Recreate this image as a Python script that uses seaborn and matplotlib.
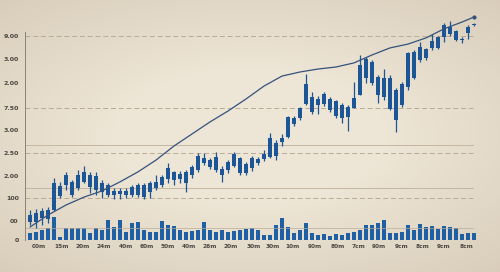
import numpy as np
import matplotlib
matplotlib.use("Agg")
import matplotlib.pyplot as plt
import seaborn as sns

# ---------------- data ----------------
high = [1.32, 1.37, 1.41, 1.45, 2.73, 2.56, 3.00, 2.64, 3.08, 3.26,
        3.00, 3.00, 2.64, 2.51, 2.29, 2.29, 2.29, 2.42, 2.51, 2.51,
        2.60, 2.86, 2.86, 3.39, 3.04, 3.04, 3.08, 3.30, 3.83, 3.83,
        3.61, 3.88, 3.26, 3.52, 3.88, 3.66, 3.44, 3.70, 3.66, 3.96,
        4.71, 4.41, 4.67, 5.46, 5.46, 5.86, 7.31, 6.52, 6.34, 6.52,
        6.30, 6.17, 6.04, 5.95, 6.96, 8.15, 8.06, 7.93, 7.27, 7.53,
        7.27, 6.70, 6.96, 8.28, 8.37, 8.72, 8.46, 9.07, 8.99, 9.56,
        9.65, 9.25, 8.94, 9.47, 9.56]
low = [0.66, 0.53, 0.66, 0.75, 1.28, 1.85, 2.20, 1.89, 2.20, 2.51,
       2.07, 1.98, 1.85, 1.89, 1.81, 1.81, 1.85, 1.89, 1.89, 1.81,
       1.85, 2.20, 2.33, 2.51, 2.42, 2.51, 2.11, 2.73, 3.00, 3.30,
       3.13, 3.00, 2.56, 2.95, 3.22, 2.86, 2.86, 3.04, 3.30, 3.48,
       3.61, 3.52, 4.14, 4.49, 5.02, 5.29, 5.95, 5.55, 5.55, 5.90,
       5.64, 5.37, 5.15, 4.80, 5.81, 6.39, 6.92, 6.83, 6.04, 6.17,
       5.73, 4.76, 5.86, 6.61, 7.09, 7.84, 7.93, 8.37, 8.41, 8.72,
       8.99, 8.77, 8.68, 8.85, 9.43]
body_top = [1.10, 1.19, 1.28, 1.32, 2.51, 2.38, 2.86, 2.56, 2.86, 3.00,
            2.86, 2.82, 2.51, 2.42, 2.16, 2.16, 2.16, 2.33, 2.42, 2.42,
            2.51, 2.56, 2.78, 3.17, 3.00, 2.91, 3.00, 3.22, 3.70, 3.61,
            3.52, 3.66, 3.13, 3.44, 3.79, 3.61, 3.35, 3.61, 3.57, 3.79,
            4.49, 4.27, 4.49, 5.42, 5.37, 5.81, 6.87, 6.30, 6.21, 6.43,
            6.21, 6.12, 5.95, 5.86, 6.26, 7.71, 7.97, 7.84, 7.18, 7.14,
            7.14, 6.61, 6.87, 8.24, 8.28, 8.50, 8.41, 8.77, 8.94, 9.47,
            9.38, 9.21, 8.85, 9.38, 9.52]
body_bottom = [0.79, 0.79, 0.97, 0.93, 1.32, 1.94, 2.42, 1.98, 2.29, 2.56,
               2.33, 2.20, 2.11, 1.98, 1.98, 2.03, 1.98, 1.98, 1.98, 1.89,
               2.11, 2.29, 2.42, 2.69, 2.64, 2.69, 2.51, 2.86, 3.08, 3.39,
               3.22, 3.08, 2.86, 3.08, 3.26, 2.95, 2.95, 3.17, 3.39, 3.57,
               3.66, 3.70, 4.32, 4.54, 5.11, 5.37, 5.99, 5.64, 5.95, 5.99,
               5.73, 5.46, 5.37, 5.42, 5.81, 6.39, 7.14, 6.92, 6.39, 6.30,
               5.77, 5.29, 5.95, 6.74, 7.14, 7.93, 8.02, 8.46, 8.46, 8.94,
               9.07, 8.81, 8.81, 9.12, 9.47]
volume = [0.31, 0.35, 0.44, 0.53, 1.01, 0.13, 0.53, 0.53, 0.53, 0.53,
          0.31, 0.53, 0.44, 0.88, 0.57, 0.88, 0.35, 0.75, 0.79, 0.44,
          0.35, 0.35, 0.84, 0.66, 0.62, 0.44, 0.35, 0.40, 0.44, 0.79,
          0.44, 0.35, 0.44, 0.35, 0.40, 0.44, 0.48, 0.53, 0.44, 0.22,
          0.22, 0.66, 0.97, 0.57, 0.31, 0.44, 0.75, 0.31, 0.22, 0.26,
          0.18, 0.26, 0.22, 0.31, 0.35, 0.44, 0.66, 0.66, 0.75, 0.88,
          0.31, 0.31, 0.35, 0.66, 0.44, 0.70, 0.57, 0.62, 0.48, 0.62,
          0.57, 0.53, 0.26, 0.31, 0.31]
trend_idx = [0, 3, 6, 9, 12, 15, 18, 21, 24, 27, 30, 33, 36, 39, 42,
             45, 48, 51, 54, 57, 60, 63, 66, 69, 72, 74]
trend_val = [0.57, 1.10, 1.54, 1.89, 2.16, 2.56, 3.00, 3.52, 4.14, 4.67,
             5.20, 5.68, 6.21, 6.78, 7.22, 7.40, 7.53, 7.62, 7.80, 8.15,
             8.46, 8.63, 8.90, 9.30, 9.60, 9.82]

ytick_pos = [0, 0.84, 1.85, 2.82, 3.83, 4.85, 5.81, 6.92, 7.97, 8.99]
ytick_labels = ["0", "00", "100", "2.00", "2.50", "3.00", "7.50", "2.00", "3.00", "9.00"]
xtick_pos = [1.5, 5.33, 8.83, 12.33, 16, 19.5, 23, 26.5, 30, 33.5, 37.33,
             40.5, 43.83, 47.5, 51.33, 54.83, 58.17, 62, 65.5, 69, 72.67]
xtick_labels = ["00m", "15m", "20m", "24m", "40m", "60m", "50m", "40m", "26m",
                "20m", "30m", "30m", "10m", "90m", "80m", "7cm", "90m", "9cm",
                "8cm", "9cm", "8cm"]
dashed_levels = [8.99, 5.81, 3.83, 1.85]
solid_levels = [4.19, 2.29, 0.53]

# ---------------- styling ----------------
sns.set_theme(style="white")
plt.rcParams["font.family"] = ["DejaVu Sans"]

BG = "#e7ddcb"
CANDLE = "#1d5696"
VOL = "#1f5fa3"
LINE = "#34527c"

fig = plt.figure(figsize=(5.0, 2.72), dpi=100)
fig.patch.set_facecolor(BG)

# soft vignette background
bg = fig.add_axes([0, 0, 1, 1], zorder=-10)
yy, xx = np.mgrid[-1:1:272j, -1:1:500j]
r = np.sqrt((xx * 0.9) ** 2 + (yy * 1.0) ** 2)
c_in = np.array([237, 229, 213]) / 255
c_out = np.array([216, 204, 185]) / 255
t = np.clip((r - 0.5) / 0.9, 0, 1)[..., None]
img = c_in * (1 - t) + c_out * t
bg.imshow(img, aspect="auto", extent=[0, 1, 0, 1])
bg.axis("off")

ax = fig.add_axes([0.05, 32 / 272, 0.91, 225 / 272])
ax.set_facecolor("none")

idx = np.arange(len(high))

# grid lines
for lv in dashed_levels:
    ax.axhline(lv, xmax=0.985, color="#b9ab95", lw=0.7, ls=(0, (5, 3)), zorder=1)
for lv in solid_levels[:2]:
    ax.axhline(lv, xmax=0.985, color="#c4b6a0", lw=0.7, zorder=1)

# volume
sns.barplot(x=idx, y=volume, native_scale=True, width=0.82, color=VOL,
            saturation=1, errorbar=None, ax=ax, zorder=2, linewidth=0)
ax.axhline(solid_levels[2], xmax=0.985, color="#b8ab98", lw=0.6, zorder=2.5, alpha=0.8)

# candles
bt = np.array(body_top)
bb = np.array(body_bottom)
hgt = np.maximum(bt - bb, 0.05)
ax.vlines(idx, low, high, color=CANDLE, lw=0.9, zorder=3)
ax.bar(idx, hgt, bottom=bb, width=0.68, color=CANDLE, zorder=4, linewidth=0)

# trend line
sns.lineplot(x=trend_idx, y=trend_val, ax=ax, color=LINE, lw=0.9, zorder=5)
ax.plot(trend_idx[-1], trend_val[-1], marker="o", ms=2, color=LINE, zorder=6)

ax.set_xlim(-0.83, 75.0)
ax.set_ylim(0, 9.91)
ax.set_yticks(ytick_pos)
ax.set_yticklabels(ytick_labels)
ax.set_xticks(xtick_pos)
ax.set_xticklabels(xtick_labels)
ax.tick_params(axis="y", labelsize=4.5, colors="#4a4640", length=1.5,
               width=0.5, pad=3)
ax.tick_params(axis="x", labelsize=4.2, colors="#4a4640", length=0, pad=3)
for lab in ax.get_yticklabels() + ax.get_xticklabels():
    lab.set_fontweight("bold")

for s in ["top", "right", "bottom"]:
    ax.spines[s].set_visible(False)
ax.spines["left"].set_color("#8d8375")
ax.spines["left"].set_linewidth(0.7)
ax.spines["left"].set_bounds(0, 9.15)
ax.set_xlabel("")
ax.set_ylabel("")

fig.savefig("out.png", dpi=100, facecolor=fig.get_facecolor())
